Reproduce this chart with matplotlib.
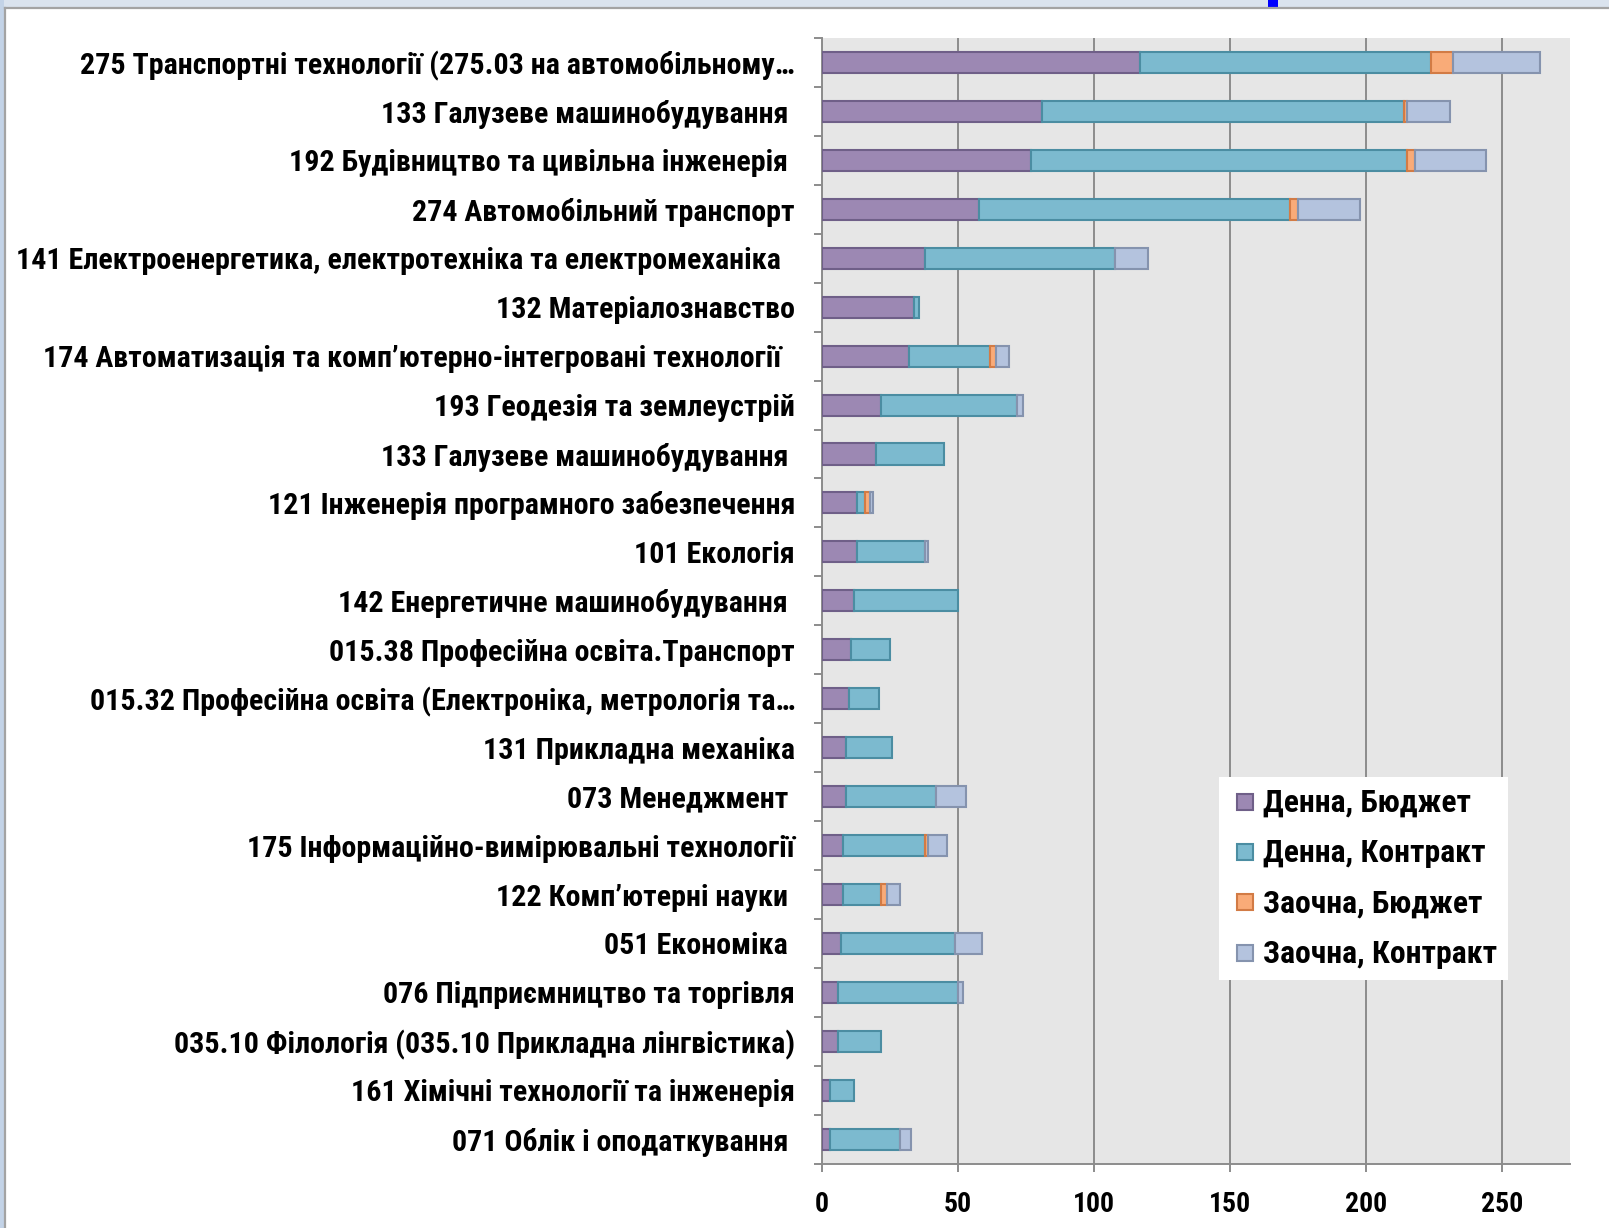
import matplotlib
matplotlib.use('Agg')
import matplotlib.pyplot as plt
from matplotlib import font_manager
from matplotlib.patches import Rectangle
from matplotlib.lines import Line2D
from matplotlib.legend_handler import HandlerPatch
import numpy as np

# ---------------- data ----------------
categories = [
    "275 Транспортні технології (275.03 на автомобільному…",
    "133 Галузеве машинобудування ",
    "192 Будівництво та цивільна інженерія ",
    "274 Автомобільний транспорт",
    "141 Електроенергетика, електротехніка та електромеханіка  ",
    "132 Матеріалознавство",
    "174 Автоматизація та комп’ютерно-інтегровані технології  ",
    "193 Геодезія та землеустрій",
    "133 Галузеве машинобудування ",
    "121 Інженерія програмного забезпечення",
    "101 Екологія",
    "142 Енергетичне машинобудування ",
    "015.38 Професійна освіта.Транспорт",
    "015.32 Професійна освіта (Електроніка, метрологія та…",
    "131 Прикладна механіка",
    "073 Менеджмент ",
    "175 Інформаційно-вимірювальні технології",
    "122 Комп’ютерні науки ",
    "051 Економіка ",
    "076 Підприємництво та торгівля",
    "035.10 Філологія (035.10 Прикладна лінгвістика)",
    "161 Хімічні технології та інженерія",
    "071 Облік і оподаткування ",
]
denna_budget     = [117, 81, 77, 58, 38, 34, 32, 22, 20, 13, 13, 12, 11, 10, 9, 9, 8, 8, 7, 6, 6, 3, 3]
denna_contract   = [107, 133, 138, 114, 70, 2, 30, 50, 25, 3, 25, 38, 14, 11, 17, 33, 30, 14, 42, 44, 16, 9, 26]
zaochna_budget   = [8, 1, 3, 3, 0, 0, 2, 0, 0, 2, 0, 0, 0, 0, 0, 0, 1, 2, 0, 0, 0, 0, 0]
zaochna_contract = [32, 16, 26, 23, 12, 0, 5, 2, 0, 1, 1, 0, 0, 0, 0, 11, 7, 5, 10, 2, 0, 0, 4]
series_names = ["Денна, Бюджет", "Денна, Контракт", "Заочна, Бюджет", "Заочна, Контракт"]
x_ticks = [0, 50, 100, 150, 200, 250]

# ---------------- fonts ----------------
avail = {f.name for f in font_manager.fontManager.ttflist}
FAM = None
STRETCH = 'normal'
for cand in ['Roboto Condensed', 'Liberation Sans Narrow', 'Open Sans Condensed',
             'Noto Sans Condensed', 'DejaVu Sans Condensed']:
    if cand in avail:
        FAM = cand
        break
if FAM is None:
    cond = [f for f in font_manager.fontManager.ttflist
            if f.name == 'Noto Sans' and str(f.stretch) in ('condensed', 'semi-condensed')]
    if cond:
        FAM = 'Noto Sans'
        STRETCH = 'condensed'
if FAM is None:
    FAM = 'Roboto' if 'Roboto' in avail else 'DejaVu Sans'
FAMLIST = [FAM, 'DejaVu Sans']
plt.rcParams['font.family'] = FAMLIST

W, H = 1609, 1228
fig = plt.figure(figsize=(W / 100, H / 100), dpi=100)
fig.patch.set_facecolor('white')

# slide decoration
fig.patches.append(Rectangle((0, 1 - 7.5 / H), 1, 7.5 / H, transform=fig.transFigure,
                             facecolor='#DAE3EE', edgecolor='none', zorder=0))
fig.patches.append(Rectangle((0, 0), 4 / W, 1, transform=fig.transFigure,
                             facecolor='#C3D3E7', edgecolor='none', zorder=0))
fig.patches.append(Rectangle((1268 / W, 1 - 7 / H), 10 / W, 7 / H, transform=fig.transFigure,
                             facecolor='#0000FF', edgecolor='none', zorder=1))
fig.lines.append(Line2D([4.5 / W, 1], [1 - 8 / H, 1 - 8 / H], transform=fig.transFigure,
                        color='#A3A3A3', lw=1.6))
fig.lines.append(Line2D([4.5 / W, 4.5 / W], [0, 1 - 8 / H], transform=fig.transFigure,
                        color='#A3A3A3', lw=1.6))

x0, x1 = 821.5, 1570.0
ytop, ybot = 38.0, 1163.7
ax = fig.add_axes([x0 / W, 1 - ybot / H, (x1 - x0) / W, (ybot - ytop) / H])
ax.set_facecolor('#E6E6E6')

faces = ['#9C88B3', '#7CBACF', '#F9AB78', '#B4C3DE']
edges = ['#6F5F88', '#4B8DA2', '#D27B45', '#8593AE']
y = np.arange(len(categories))
left = np.zeros(len(categories))
handles = []
for vals, fc, ec, name in zip([denna_budget, denna_contract, zaochna_budget, zaochna_contract],
                              faces, edges, series_names):
    v = np.array(vals, dtype=float)
    lw = np.where(v > 0, 1.5, 0.0)
    ax.barh(y, v, left=left, height=0.43, color=fc, edgecolor=ec, linewidth=lw,
            label=name, zorder=3)
    handles.append(Rectangle((0, 0), 1, 1, facecolor=fc, edgecolor=ec, linewidth=1.5))
    left = left + v

ax.set_xlim(0, 275)
ax.set_ylim(len(categories) - 0.5, -0.5)
ax.set_xticks(x_ticks)
ax.xaxis.grid(True, color='#8C8C8C', lw=1.4)
ax.set_axisbelow(True)
for s in ['top', 'right']:
    ax.spines[s].set_visible(False)
for s in ['left', 'bottom']:
    ax.spines[s].set_color('#8C8C8C')
    ax.spines[s].set_linewidth(1.4)

ax.set_yticks(y)
ax.set_yticklabels(categories)
ax.set_yticks(np.arange(len(categories) + 1) - 0.5, minor=True)
ax.tick_params(axis='y', which='major', length=0, pad=26.5 * 0.72)
ax.tick_params(axis='y', which='minor', length=8 * 0.72, width=1.4, color='#8C8C8C', direction='out')
ax.tick_params(axis='x', which='major', length=8 * 0.72, width=1.4, color='#8C8C8C',
               direction='out', pad=14)

# ---- fit font sizes to reference widths ----
fig.canvas.draw()
r = fig.canvas.get_renderer()


def extent_px(text, size):
    t = fig.text(0, 0, text, fontsize=size, fontweight='bold', family=FAMLIST, fontstretch=STRETCH)
    e = t.get_window_extent(r)
    t.remove()
    return e.width, e.height


lab_size = 20 * 763 / extent_px("141 Електроенергетика, електротехніка та електромеханіка", 20)[0]
tick_size = 20 * 42 / extent_px("100", 20)[0]
leg_size = 20 * 234 / extent_px("Заочна, Контракт", 20)[0]
lab_size = min(lab_size, 24)
tick_size = min(tick_size, 22)
leg_size = min(leg_size, 24)

for t in ax.get_yticklabels():
    t.set_fontsize(lab_size)
    t.set_fontweight('bold')
    t.set_fontstretch(STRETCH)
for t in ax.get_xticklabels():
    t.set_fontsize(tick_size)
    t.set_fontweight('bold')
    t.set_fontstretch(STRETCH)

Fpx = leg_size * 100 / 72
th = extent_px("Заочна, Контракт", leg_size)[1]
pad_px = max(26 - th / 2, 10)
shift_px = 18 - pad_px  # extra horizontal inset of the square marker


def square_patch(legend, orig_handle, xdescent, ydescent, width, height, fontsize):
    side = height + ydescent
    return Rectangle((-xdescent + width - side, -ydescent), side, side)


leg = ax.legend(handles, series_names, loc='upper left',
                bbox_to_anchor=((1219 - x0) / (x1 - x0), (ybot - 777) / (ybot - ytop)),
                borderaxespad=0, frameon=True, fancybox=False,
                prop=dict(size=leg_size, weight='bold', family=FAMLIST, stretch=STRETCH),
                handlelength=(16 + shift_px) / Fpx, handleheight=16 / Fpx, handletextpad=10 / Fpx,
                labelspacing=(50.3 - th) / Fpx, borderpad=pad_px / Fpx,
                handler_map={Rectangle: HandlerPatch(patch_func=square_patch)})
leg.get_frame().set_facecolor('white')
leg.get_frame().set_edgecolor('white')
leg.get_frame().set_linewidth(0)
leg.get_frame().set_alpha(1)
leg.set_zorder(5)

fig.savefig('out.png', dpi=100, facecolor='white')
